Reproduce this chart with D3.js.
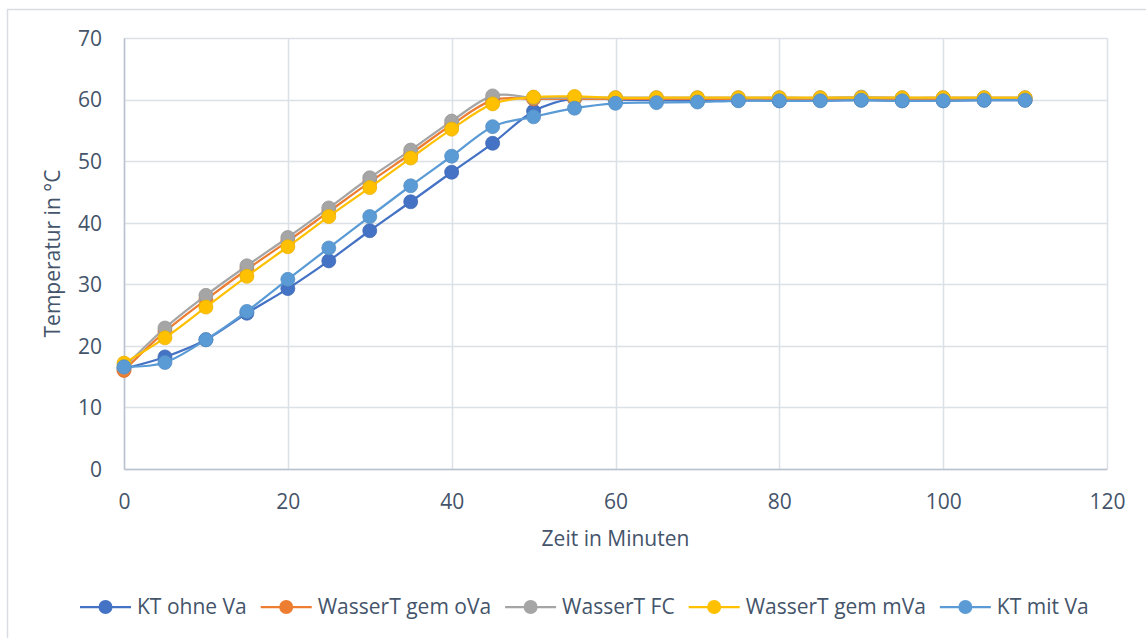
<!DOCTYPE html>
<html>
<head>
<meta charset="utf-8">
<script src="https://cdn.jsdelivr.net/npm/d3@7"></script>
<style>
  html, body { margin: 0; padding: 0; background: #fff; }
  svg text { font-family: "Open Sans", "Noto Sans", sans-serif; fill: #44546A; }
</style>
</head>
<body>
<svg id="chart" width="1146" height="638"></svg>
<script>
// Zeitpunkte (Minuten)
const minutes = [0, 5, 10, 15, 20, 25, 30, 35, 40, 45, 50, 55, 60, 65, 70, 75, 80, 85, 90, 95, 100, 105, 110];

// Temperaturen in °C je Messreihe
const ktOhneVa      = [16.3, 18.2, 21.0, 25.3, 29.3, 33.8, 38.7, 43.4, 48.2, 52.9, 58.1, 60.2, 60.0, 59.9, 59.8, 59.9, 59.8, 59.9, 59.9, 59.8, 59.8, 59.9, 59.9];
const wasserGemOVa  = [16.0, 22.3, 27.5, 32.4, 37.0, 41.8, 46.6, 51.2, 55.9, 59.9, 60.1, 60.1, 60.1, 60.1, 60.1, 60.1, 60.1, 60.1, 60.1, 60.1, 60.1, 60.1, 60.1];
const wasserFC      = [16.5, 22.9, 28.2, 33.0, 37.6, 42.4, 47.3, 51.8, 56.5, 60.6, 60.3, 60.3, 60.3, 60.3, 60.3, 60.3, 60.3, 60.3, 60.4, 60.3, 60.3, 60.3, 60.3];
const wasserGemMVa  = [17.2, 21.3, 26.3, 31.3, 36.1, 41.0, 45.7, 50.5, 55.2, 59.3, 60.4, 60.5, 60.3, 60.3, 60.3, 60.3, 60.3, 60.3, 60.3, 60.3, 60.3, 60.3, 60.3];
const ktMitVa       = [16.6, 17.3, 21.0, 25.6, 30.8, 35.9, 41.0, 46.0, 50.8, 55.6, 57.2, 58.6, 59.4, 59.5, 59.6, 59.8, 59.8, 59.8, 59.9, 59.8, 59.8, 59.9, 59.9];

const seriesNames  = ["KT ohne Va", "WasserT gem oVa", "WasserT FC", "WasserT gem mVa", "KT mit Va"];
const seriesValues = [ktOhneVa, wasserGemOVa, wasserFC, wasserGemMVa, ktMitVa];
const seriesColors = ["#4472C4", "#ED7D31", "#A5A5A5", "#FFC000", "#5B9BD5"];

const xTicks = [0, 20, 40, 60, 80, 100, 120];
const yTicks = [0, 10, 20, 30, 40, 50, 60, 70];

const xTitle = "Zeit in Minuten";
const yTitle = "Temperatur in °C";

const svg = d3.select("#chart");
const W = 1146, H = 638;
const plot = { left: 124, top: 38, right: 1107, bottom: 469 };
const FONT = 21;

// Chart frame
svg.append("rect")
  .attr("x", 7.5).attr("y", 9.5)
  .attr("width", W).attr("height", H)
  .attr("fill", "#fff").attr("stroke", "#D9DDE3").attr("stroke-width", 1.5);

const x = d3.scaleLinear().domain([0, 120]).range([plot.left, plot.right]);
const y = d3.scaleLinear().domain([0, 70]).range([plot.bottom, plot.top]);

// Gridlines
const grid = svg.append("g");
grid.selectAll("line.h").data(yTicks).join("line")
  .attr("x1", plot.left).attr("x2", plot.right)
  .attr("y1", d => Math.round(y(d)) + 0.5).attr("y2", d => Math.round(y(d)) + 0.5)
  .attr("stroke", "#DCE0E7").attr("stroke-width", 1.5);
grid.selectAll("line.v").data(xTicks).join("line")
  .attr("y1", plot.top).attr("y2", plot.bottom)
  .attr("x1", d => Math.round(x(d)) + 0.5).attr("x2", d => Math.round(x(d)) + 0.5)
  .attr("stroke", "#DCE0E7").attr("stroke-width", 1.5);

// Axes
const xAxis = d3.axisBottom(x).tickValues(xTicks).tickSize(0).tickPadding(25);
const yAxis = d3.axisLeft(y).tickValues(yTicks).tickSize(0).tickPadding(22);

const gx = svg.append("g").attr("transform", `translate(0,${plot.bottom})`).call(xAxis);
const gy = svg.append("g").attr("transform", `translate(${plot.left},0)`).call(yAxis);
[gx, gy].forEach(g => {
  g.select(".domain").attr("stroke", "#BAC2CE").attr("stroke-width", 1.5);
  g.selectAll("text").attr("font-size", FONT).attr("fill", "#44546A")
    .style("font-family", "'Open Sans', sans-serif");
});
gy.selectAll("text").attr("dy", "0.35em");

// Axis titles
svg.append("text")
  .attr("x", (plot.left + plot.right) / 2).attr("y", 546)
  .attr("text-anchor", "middle").attr("font-size", FONT)
  .text(xTitle);
svg.append("text")
  .attr("transform", `translate(60,${(plot.top + plot.bottom) / 2}) rotate(-90)`)
  .attr("text-anchor", "middle").attr("font-size", FONT)
  .text(yTitle);

// Series lines and markers
const line = d3.line()
  .x((d, i) => x(minutes[i]))
  .y(d => y(d))
  .curve(d3.curveCardinal.tension(0));

const series = svg.append("g").selectAll("g")
  .data(seriesValues.map((v, k) => ({ name: seriesNames[k], values: v, color: seriesColors[k] })))
  .join("g");

series.append("path")
  .attr("d", d => line(d.values))
  .attr("fill", "none")
  .attr("stroke", d => d.color)
  .attr("stroke-width", 2.25);

series.selectAll("circle")
  .data(d => d.values.map((v, i) => ({ v, i, color: d.color })))
  .join("circle")
  .attr("cx", d => x(minutes[d.i]))
  .attr("cy", d => y(d.v))
  .attr("r", 7)
  .attr("fill", d => d.color)
  .attr("stroke", d => d3.color(d.color).darker(0.25))
  .attr("stroke-width", 0.75);

// Legend
const legend = svg.append("g").attr("transform", "translate(0,607)");
let cursor = 80;
seriesNames.forEach((name, k) => {
  const item = legend.append("g").attr("transform", `translate(${cursor},0)`);
  item.append("line").attr("x1", 0).attr("x2", 51).attr("y1", 0).attr("y2", 0)
    .attr("stroke", seriesColors[k]).attr("stroke-width", 2.25);
  item.append("circle").attr("cx", 25.5).attr("cy", 0).attr("r", 7)
    .attr("fill", seriesColors[k]);
  const t = item.append("text").attr("x", 57).attr("y", 0).attr("dy", "0.35em")
    .attr("font-size", FONT).text(name);
  cursor += 57 + t.node().getComputedTextLength() + 14;
});
</script>
</body>
</html>
